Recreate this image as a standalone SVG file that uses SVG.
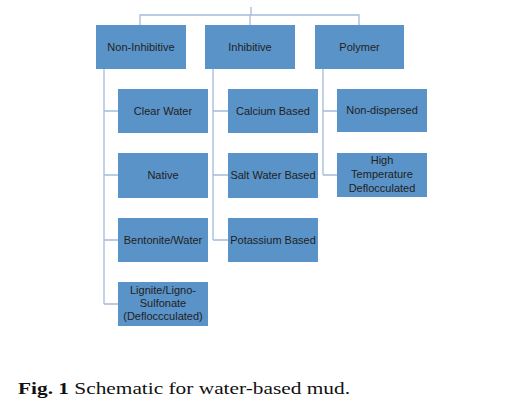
<svg xmlns="http://www.w3.org/2000/svg" width="513" height="404" viewBox="0 0 513 404">
<style>
.box{fill:#5A93C8;}
.lbl{font-family:"Liberation Sans","Open Sans",sans-serif;font-size:11px;fill:#222;text-anchor:middle;}
.conn{stroke:#A4BCDA;stroke-width:1.3;fill:none;}
.cap{font-family:"Liberation Serif","DejaVu Serif",serif;font-size:16px;fill:#111;}
</style>
<rect width="513" height="404" fill="#fff"/>
<g id="connectors">
<path class="conn" d="M251,7V15M140,25V15H359V25M250,15V25"/>
<path class="conn" d="M104,69V304M104,111H118M104,175H118M104,240H118M104,304H118"/>
<path class="conn" d="M213,69V240M213,111H228M213,175H228M213,240H228"/>
<path class="conn" d="M323,69V175M323,111H337M323,175H337"/>
</g>
<g id="non-inhibitive"><rect class="box" x="96" y="25" width="90" height="44"/><text class="lbl" x="141" y="51">Non-Inhibitive</text></g>
<g id="inhibitive"><rect class="box" x="205" y="25" width="90" height="44"/><text class="lbl" x="250" y="51">Inhibitive</text></g>
<g id="polymer"><rect class="box" x="315" y="25" width="89" height="44"/><text class="lbl" x="359.5" y="51">Polymer</text></g>
<g id="clear-water"><rect class="box" x="118" y="89" width="90" height="44"/><text class="lbl" x="163" y="115">Clear Water</text></g>
<g id="native"><rect class="box" x="118" y="153" width="90" height="45"/><text class="lbl" x="163" y="179">Native</text></g>
<g id="bentonite-water"><rect class="box" x="118" y="218" width="90" height="44"/><text class="lbl" x="163" y="244">Bentonite/Water</text></g>
<g id="lignite"><rect class="box" x="118" y="282" width="90" height="44"/><text class="lbl" x="163" y="294">Lignite/Ligno-</text><text class="lbl" x="163" y="307">Sulfonate</text><text class="lbl" x="163" y="320">(Defloccculated)</text></g>
<g id="calcium-based"><rect class="box" x="228" y="89" width="90" height="44"/><text class="lbl" x="273" y="115">Calcium Based</text></g>
<g id="salt-water-based"><rect class="box" x="228" y="153" width="90" height="45"/><text class="lbl" x="273" y="179">Salt Water Based</text></g>
<g id="potassium-based"><rect class="box" x="228" y="218" width="90" height="44"/><text class="lbl" x="273" y="244">Potassium Based</text></g>
<g id="non-dispersed"><rect class="box" x="337" y="89" width="90" height="43"/><text class="lbl" x="382" y="114">Non-dispersed</text></g>
<g id="high-temp"><rect class="box" x="337" y="153" width="90" height="44"/><text class="lbl" x="382" y="164">High</text><text class="lbl" x="382" y="178">Temperature</text><text class="lbl" x="382" y="192">Deflocculated</text></g>
<text class="cap" x="18" y="394" textLength="332" lengthAdjust="spacingAndGlyphs"><tspan font-weight="bold">Fig. 1</tspan> Schematic for water-based mud.</text>
</svg>
